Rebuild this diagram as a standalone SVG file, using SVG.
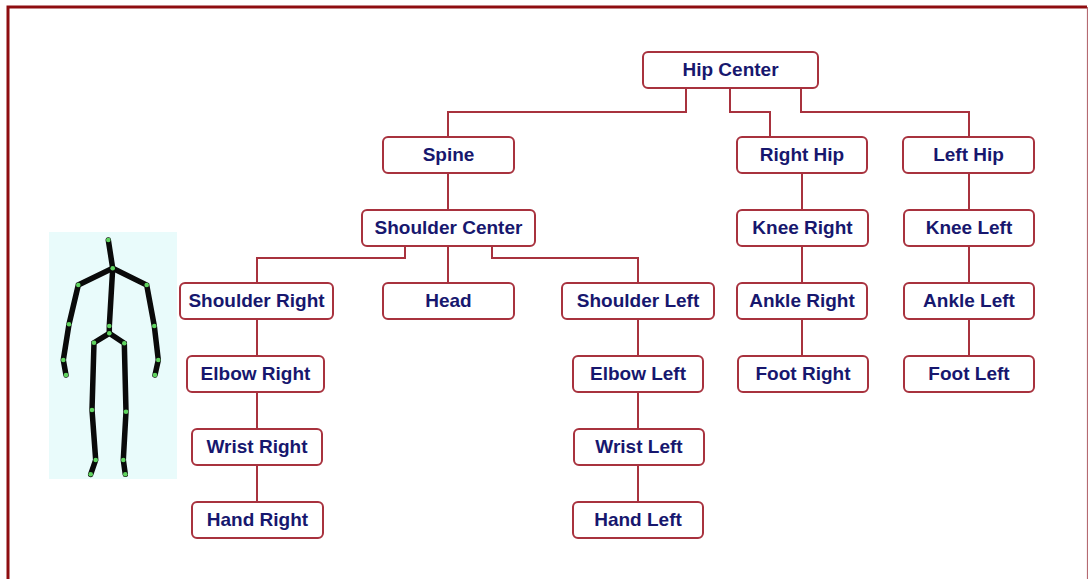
<svg xmlns="http://www.w3.org/2000/svg" width="1088" height="579" viewBox="0 0 1088 579">
  <style>
    .node rect { fill: #ffffff; stroke: #a8323e; stroke-width: 2; }
    .node text { font-family: "Liberation Sans", Arial, sans-serif; font-size: 19px; font-weight: bold; fill: #17176e; text-anchor: middle; }
    #connectors path { fill: none; stroke: #a8323e; stroke-width: 2; }
    .bone { stroke: #0a0a0a; stroke-width: 5.5; stroke-linecap: round; fill: none; }
    .joint { fill: #5fd35f; }
  </style>
  <defs>
    <circle id="j" r="2.3" class="joint"/>
  </defs>

  <!-- page frame -->
  <rect x="0" y="0" width="1088" height="579" fill="#ffffff"/>
  <path d="M8,580 V7 H1087" fill="none" stroke="#8e0d10" stroke-width="3"/>
  <path d="M1087.5,7 V580" fill="none" stroke="#b56a72" stroke-width="1.2"/>

  <!-- skeleton figure -->
  <g id="figure">
    <rect x="49" y="232" width="128" height="247" fill="#e9fbfb"/>
    <polyline class="bone" points="108.3,240 112.7,268.3 109.3,326 109.3,333.3"/>
    <polyline class="bone" points="112.7,268.3 78.3,285 69,324.3 63.3,360 66,375"/>
    <polyline class="bone" points="112.7,268.3 146.7,285 154.3,326 158.3,360 155,375"/>
    <polyline class="bone" points="109.3,333.3 94,342.7 92,410 95.7,460 90.7,474.3"/>
    <polyline class="bone" points="109.3,333.3 124.3,343.3 126,411.7 123.3,460 125.3,474.3"/>
    <use href="#j" x="108.3" y="240"/>
    <use href="#j" x="112.7" y="268.3"/>
    <use href="#j" x="78.3" y="285"/>
    <use href="#j" x="69" y="324.3"/>
    <use href="#j" x="63.3" y="360"/>
    <use href="#j" x="66" y="375"/>
    <use href="#j" x="146.7" y="285"/>
    <use href="#j" x="154.3" y="326"/>
    <use href="#j" x="158.3" y="360"/>
    <use href="#j" x="155" y="375"/>
    <use href="#j" x="109.3" y="326"/>
    <use href="#j" x="109.3" y="333.3"/>
    <use href="#j" x="94" y="342.7"/>
    <use href="#j" x="92" y="410"/>
    <use href="#j" x="95.7" y="460"/>
    <use href="#j" x="90.7" y="474.3"/>
    <use href="#j" x="124.3" y="343.3"/>
    <use href="#j" x="126" y="411.7"/>
    <use href="#j" x="123.3" y="460"/>
    <use href="#j" x="125.3" y="474.3"/>
  </g>

  <!-- tree edges -->
  <g id="connectors">
    <path d="M686,88 V112 H448 V137"/>
    <path d="M730,88 V112 H770 V137"/>
    <path d="M801,88 V112 H969 V137"/>
    <path d="M448,173 V210"/>
    <path d="M405,246 V258 H257 V283"/>
    <path d="M448,246 V283"/>
    <path d="M492,246 V258 H638 V283"/>
    <path d="M257,319 V356"/>
    <path d="M257,392 V429"/>
    <path d="M257,465 V502"/>
    <path d="M638,319 V356"/>
    <path d="M638,392 V429"/>
    <path d="M638,465 V502"/>
    <path d="M802,173 V210"/>
    <path d="M802,246 V283"/>
    <path d="M802,319 V356"/>
    <path d="M969,173 V210"/>
    <path d="M969,246 V283"/>
    <path d="M969,319 V356"/>
  </g>

  <!-- joints -->
  <g id="hip-center" class="node"><rect x="643" y="52" width="175" height="36" rx="5"/><text x="730.5" y="76">Hip Center</text></g>

  <g id="spine" class="node"><rect x="383" y="137" width="131" height="36" rx="5"/><text x="448.5" y="161">Spine</text></g>
  <g id="right-hip" class="node"><rect x="737" y="137" width="130" height="36" rx="5"/><text x="802" y="161">Right Hip</text></g>
  <g id="left-hip" class="node"><rect x="903" y="137" width="131" height="36" rx="5"/><text x="968.5" y="161">Left Hip</text></g>

  <g id="shoulder-center" class="node"><rect x="362" y="210" width="173" height="36" rx="5"/><text x="448.5" y="234">Shoulder Center</text></g>
  <g id="knee-right" class="node"><rect x="737" y="210" width="131" height="36" rx="5"/><text x="802.5" y="234">Knee Right</text></g>
  <g id="knee-left" class="node"><rect x="904" y="210" width="130" height="36" rx="5"/><text x="969" y="234">Knee Left</text></g>

  <g id="shoulder-right" class="node"><rect x="180" y="283" width="153" height="36" rx="5"/><text x="256.5" y="307">Shoulder Right</text></g>
  <g id="head" class="node"><rect x="383" y="283" width="131" height="36" rx="5"/><text x="448.5" y="307">Head</text></g>
  <g id="shoulder-left" class="node"><rect x="562" y="283" width="152" height="36" rx="5"/><text x="638" y="307">Shoulder Left</text></g>
  <g id="ankle-right" class="node"><rect x="737" y="283" width="130" height="36" rx="5"/><text x="802" y="307">Ankle Right</text></g>
  <g id="ankle-left" class="node"><rect x="904" y="283" width="130" height="36" rx="5"/><text x="969" y="307">Ankle Left</text></g>

  <g id="elbow-right" class="node"><rect x="187" y="356" width="137" height="36" rx="5"/><text x="255.5" y="380">Elbow Right</text></g>
  <g id="elbow-left" class="node"><rect x="573" y="356" width="130" height="36" rx="5"/><text x="638" y="380">Elbow Left</text></g>
  <g id="foot-right" class="node"><rect x="738" y="356" width="130" height="36" rx="5"/><text x="803" y="380">Foot Right</text></g>
  <g id="foot-left" class="node"><rect x="904" y="356" width="130" height="36" rx="5"/><text x="969" y="380">Foot Left</text></g>

  <g id="wrist-right" class="node"><rect x="192" y="429" width="130" height="36" rx="5"/><text x="257" y="453">Wrist Right</text></g>
  <g id="wrist-left" class="node"><rect x="574" y="429" width="130" height="36" rx="5"/><text x="639" y="453">Wrist Left</text></g>

  <g id="hand-right" class="node"><rect x="192" y="502" width="131" height="36" rx="5"/><text x="257.5" y="526">Hand Right</text></g>
  <g id="hand-left" class="node"><rect x="573" y="502" width="130" height="36" rx="5"/><text x="638" y="526">Hand Left</text></g>
</svg>
